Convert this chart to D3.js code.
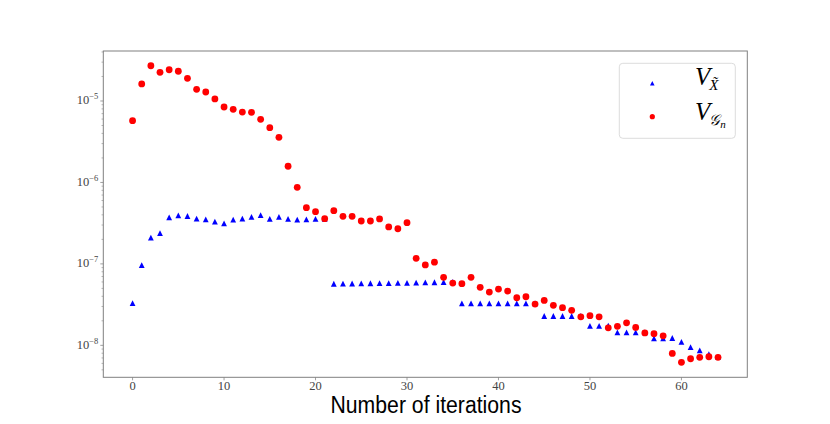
<!DOCTYPE html>
<html>
<head>
<meta charset="utf-8">
<script src="https://cdn.jsdelivr.net/npm/d3@7"></script>
<style>
  html, body { margin: 0; padding: 0; background: #fff; }
  svg { display: block; }
  .tick-label { font-family: 'Liberation Serif', 'DejaVu Serif', serif; fill: #444; }
</style>
</head>
<body>
<div id="chart"></div>
<script>
const iterations = [0, 1, 2, 3, 4, 5, 6, 7, 8, 9, 10, 11, 12, 13, 14, 15, 16, 17, 18, 19, 20,
  21, 22, 23, 24, 25, 26, 27, 28, 29, 30, 31, 32, 33, 34, 35, 36, 37, 38, 39, 40, 41, 42,
  43, 44, 45, 46, 47, 48, 49, 50, 51, 52, 53, 54, 55, 56, 57, 58, 59, 60, 61, 62, 63, 64];

// V_X~ (blue triangles)
const vX = [3.30e-8, 9.68e-8, 2.10e-7, 2.39e-7, 3.73e-7, 3.95e-7, 3.87e-7, 3.59e-7, 3.52e-7, 3.30e-7,
  3.15e-7, 3.49e-7, 3.59e-7, 3.77e-7, 3.98e-7, 3.56e-7, 3.77e-7, 3.56e-7, 3.49e-7, 3.52e-7,
  3.56e-7, 3.56e-7, 5.70e-8, 5.72e-8, 5.74e-8, 5.76e-8, 5.78e-8, 5.80e-8, 5.82e-8, 5.84e-8,
  5.86e-8, 5.90e-8, 5.92e-8, 5.95e-8, 5.98e-8, 6.00e-8, 3.28e-8, 3.28e-8, 3.28e-8, 3.28e-8,
  3.28e-8, 3.28e-8, 3.28e-8, 3.28e-8, 3.28e-8, 2.29e-8, 2.29e-8, 2.29e-8, 2.29e-8, 2.29e-8,
  1.73e-8, 1.73e-8, 1.75e-8, 1.44e-8, 1.44e-8, 1.44e-8, 1.44e-8, 1.22e-8, 1.22e-8, 1.23e-8,
  1.10e-8, 9.48e-9, 8.67e-9, 7.82e-9, 7.2e-9];

// V_Gn (red circles)
const vG = [5.73e-6, 1.62e-5, 2.71e-5, 2.25e-5, 2.42e-5, 2.32e-5, 1.90e-5, 1.39e-5, 1.29e-5, 1.06e-5,
  8.44e-6, 7.9e-6, 7.32e-6, 7.26e-6, 5.96e-6, 4.70e-6, 3.58e-6, 1.58e-6, 8.7e-7, 4.9e-7,
  4.38e-7, 3.59e-7, 4.5e-7, 3.84e-7, 3.84e-7, 3.36e-7, 3.36e-7, 3.56e-7, 2.84e-7, 2.70e-7,
  3.21e-7, 1.17e-7, 9.7e-8, 1.05e-7, 6.84e-8, 5.82e-8, 5.71e-8, 6.84e-8, 5.15e-8, 4.51e-8,
  4.91e-8, 4.64e-8, 3.84e-8, 3.95e-8, 3.21e-8, 3.56e-8, 3.10e-8, 2.90e-8, 2.69e-8, 2.24e-8,
  2.31e-8, 2.24e-8, 1.64e-8, 1.71e-8, 1.89e-8, 1.66e-8, 1.42e-8, 1.39e-8, 1.31e-8, 7.96e-9,
  6.18e-9, 6.84e-9, 7.12e-9, 7.24e-9, 7.12e-9];

const xTicks = [0, 10, 20, 30, 40, 50, 60];
const yTicks = [1e-8, 1e-7, 1e-6, 1e-5];
const yTickExp = ['\u22128', '\u22127', '\u22126', '\u22125'];
const xLabel = 'Number of iterations';

const width = 830, height = 424;
const plot = { left: 103.3, right: 747.3, top: 51, bottom: 377.3 };

const svg = d3.select('#chart').append('svg')
  .attr('width', width).attr('height', height);

const x = d3.scaleLinear().domain([-3.2, 67.2]).range([plot.left, plot.right]);
const y = d3.scaleLog().domain([4.05e-9, 4.11e-5]).range([plot.bottom, plot.top]);

// minor ticks on log axis
const minor = [];
for (let e = -9; e <= -5; e += 1) {
  for (let m = 2; m <= 9; m += 1) {
    const v = m * Math.pow(10, e);
    if (v >= y.domain()[0] && v <= y.domain()[1]) minor.push(v);
  }
}
svg.append('g').selectAll('line').data(minor).join('line')
  .attr('x1', plot.left - 1.8).attr('x2', plot.left)
  .attr('y1', (d) => y(d)).attr('y2', (d) => y(d))
  .attr('stroke', '#888').attr('stroke-width', 0.6);

svg.append('g').selectAll('line').data(yTicks).join('line')
  .attr('x1', plot.left - 3).attr('x2', plot.left)
  .attr('y1', (d) => y(d)).attr('y2', (d) => y(d))
  .attr('stroke', '#888').attr('stroke-width', 0.8);

svg.append('g').selectAll('line').data(xTicks).join('line')
  .attr('x1', (d) => x(d)).attr('x2', (d) => x(d))
  .attr('y1', plot.bottom).attr('y2', plot.bottom + 3)
  .attr('stroke', '#888').attr('stroke-width', 0.8);

// y tick labels as 10^{-k}
const yl = svg.append('g').selectAll('text').data(yTicks).join('text')
  .attr('class', 'tick-label')
  .attr('text-anchor', 'end')
  .attr('x', plot.left - 5)
  .attr('y', (d) => y(d) + 3.5)
  .style('font-size', '12.5px');
yl.append('tspan').text('10');
yl.append('tspan').attr('dy', -5).style('font-size', '8.5px').text((d, i) => yTickExp[i]);

svg.append('g').selectAll('text').data(xTicks).join('text')
  .attr('class', 'tick-label')
  .attr('text-anchor', 'middle')
  .attr('x', (d) => x(d))
  .attr('y', 389.5)
  .style('font-size', '12.5px')
  .text((d) => d);

// frame
svg.append('rect')
  .attr('x', plot.left).attr('y', plot.top)
  .attr('width', plot.right - plot.left).attr('height', plot.bottom - plot.top)
  .attr('fill', 'none').attr('stroke', '#808080').attr('stroke-width', 1);

const tri = (s) => `M0,${-s}L${s},${s}L${-s},${s}Z`;

svg.append('g').selectAll('path').data(iterations).join('path')
  .attr('d', tri(2.9))
  .attr('transform', (d, i) => `translate(${x(d)},${y(vX[i])})`)
  .attr('fill', '#0000ff');

svg.append('g').selectAll('circle').data(iterations).join('circle')
  .attr('cx', (d) => x(d))
  .attr('cy', (d, i) => y(vG[i]))
  .attr('r', 3.4)
  .attr('fill', '#ff0000');

// x label
svg.append('text')
  .attr('x', 426).attr('y', 413)
  .attr('text-anchor', 'middle')
  .attr('textLength', 191).attr('lengthAdjust', 'spacingAndGlyphs')
  .style('font-family', "'Liberation Sans', 'DejaVu Sans', sans-serif")
  .style('font-size', '23px')
  .attr('fill', '#000')
  .text(xLabel);

// legend
const lg = svg.append('g');
lg.append('rect')
  .attr('x', 619.3).attr('y', 63.3).attr('width', 116).attr('height', 75)
  .attr('rx', 3.5).attr('fill', '#fff').attr('fill-opacity', 0.8)
  .attr('stroke', '#dcdcdc').attr('stroke-width', 1);
lg.append('path').attr('d', tri(2.3))
  .attr('transform', 'translate(652.3,83.3)').attr('fill', '#0000ff');
lg.append('circle').attr('cx', 652.3).attr('cy', 116.7).attr('r', 2.6).attr('fill', '#ff0000');

const t1 = lg.append('text').attr('x', 695).attr('y', 84.5)
  .style('font-family', "'Liberation Serif', 'DejaVu Serif', serif").style('font-style', 'italic');
t1.append('tspan').style('font-size', '25px').text('V');
t1.append('tspan').attr('dy', 5).attr('dx', -1).style('font-size', '15px').text('X\u0303');

const t2 = lg.append('text').attr('x', 695).attr('y', 119.5)
  .style('font-family', "'Liberation Serif', 'DejaVu Serif', serif").style('font-style', 'italic');
t2.append('tspan').style('font-size', '25px').text('V');
t2.append('tspan').attr('dy', 5).attr('dx', -1).style('font-size', '15px').text('\uD835\uDCA2');
t2.append('tspan').attr('dy', 3).style('font-size', '11px').text('n');
</script>
</body>
</html>
